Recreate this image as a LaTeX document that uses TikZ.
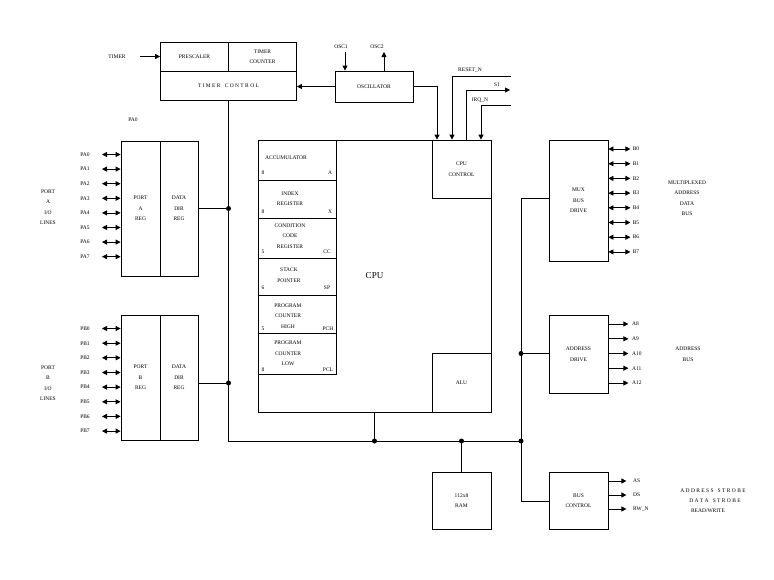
\documentclass[tikz,border=0pt]{standalone}
\usepackage{fontspec}
\setmainfont{Liberation Serif}
\usetikzlibrary{arrows.meta}
\tikzset{
  block/.style={draw=black, line width=0.8pt, inner sep=0pt, align=center, font=\fontsize{5.5}{10.5}\selectfont},
  txt/.style={inner sep=0pt, align=center, font=\fontsize{5.5}{10.5}\selectfont},
  wire/.style={line width=0.8pt, draw=black},
  arr/.style={wire, -{Triangle[length=5pt,width=5pt]}},
  bidir/.style={wire, {Triangle[length=5pt,width=5pt]}-{Triangle[length=5pt,width=5pt]}},
  joint/.style={fill=black},
}

\begin{document}
\begin{tikzpicture}[x=1pt, y=-1pt]
\useasboundingbox (0,0) rectangle (774,579);
% timer
\node[block, minimum width=68, minimum height=29] (presc) at (194.5,56.5) {PRESCALER};
\node[block, minimum width=68, minimum height=29] (tcount) at (262.5,56.5) {TIMER\\COUNTER};
\node[block, minimum width=136, minimum height=29] (tctrl) at (228.5,85.5) {T I M E R \ \ C O N T R O L};
\node[txt] (timer) at (117,56.5) {TIMER};
\draw[arr] (timer) ++(23,0) -- (presc.west);
% oscillator
\node[block, minimum width=78, minimum height=31] (osc) at (374,86.5) {OSCILLATOR};
\node[txt] (osc1) at (341,47) {OSC1};
\node[txt] (osc2) at (377,47) {OSC2};
\coordinate (osc1in) at (345,52);
\coordinate (osc2out) at (384,52);
\draw[arr] (osc1in) -- (osc1in |- osc.north);
\draw[arr] (osc2out |- osc.north) -- (osc2out);
\draw[arr] (osc.west) -- (osc.west -| tctrl.east);
% cpu
\node[block, minimum width=233, minimum height=272, font=\fontsize{9}{11}\selectfont] (cpu) at (374.5,276) {CPU};
\node[block, minimum width=59, minimum height=58] (cpuctl) at (461.5,169) {CPU\\CONTROL};
\node[block, minimum width=59, minimum height=59] (alu) at (461.5,382.5) {ALU};
\node[block, minimum width=78, minimum height=40] (acc) at (297,160) {};
\node[block, minimum width=78, minimum height=38] (idx) at (297,199) {};
\node[block, minimum width=78, minimum height=40] (ccr) at (297,238) {};
\node[block, minimum width=78, minimum height=37] (sp) at (297,276.5) {};
\node[block, minimum width=78, minimum height=38] (pch) at (297,314) {};
\node[block, minimum width=78, minimum height=41] (pcl) at (297,353.5) {};
\node[txt] (acctxt) at (286,158) {ACCUMULATOR};
\node[txt] (idxtxt) at (290,198.5) {INDEX\\REGISTER};
\node[txt] (ccrtxt) at (290,236) {CONDITION\\CODE\\REGISTER};
\node[txt] (sptxt) at (289,275) {STACK\\POINTER};
\node[txt] (pchtxt) at (288,316) {PROGRAM\\COUNTER\\HIGH};
\node[txt] (pcltxt) at (288,353.5) {PROGRAM\\COUNTER\\LOW};
\node[txt] (accn) at (263,173) {8};
\node[txt] (accr) at (330,173) {A};
\node[txt] (idxn) at (263,212) {8};
\node[txt] (idxr) at (330,212) {X};
\node[txt] (ccrn) at (263,252) {5};
\node[txt] (ccrr) at (327,252) {CC};
\node[txt] (spn) at (263,288) {6};
\node[txt] (spr) at (327,288) {SP};
\node[txt] (pchn) at (263,329) {5};
\node[txt] (pchr) at (328,329) {PCH};
\node[txt] (pcln) at (263,370) {8};
\node[txt] (pclr) at (328,370) {PCL};
% control lines
\coordinate (clkin) at (437,86.5);
\draw[arr] (osc.east) -- (clkin) -- (clkin |- cpu.north);
\coordinate (rstin) at (511,76);
\coordinate (rstbend) at (452,76);
\draw[arr] (rstin) -- (rstbend) -- (rstbend |- cpu.north);
\node[txt] (rstlbl) at (470,70) {RESET\_N};
\coordinate (s1bend) at (466,90);
\coordinate (s1out) at (510,90);
\draw[arr] (s1bend |- cpu.north) -- (s1bend) -- (s1out);
\node[txt] (s1lbl) at (497,85) {S1};
\coordinate (irqin) at (511,105);
\coordinate (irqbend) at (481,105);
\draw[arr] (irqin) -- (irqbend) -- (irqbend |- cpu.north);
\node[txt] (irqlbl) at (480,100) {IRQ\_N};
% port a
\node[block, minimum width=39, minimum height=135] (portareg) at (140.5,208.5) {PORT\\A\\REG};
\node[block, minimum width=38, minimum height=135] (ddra) at (179,208.5) {DATA\\DIR\\REG};
\node[txt] (portalbl) at (48,207) {PORT\\A\\I/O\\LINES};
\node[txt] (pahead) at (133,120) {PA0};
\node[txt] (pa0) at (85,154.5) {PA0};
\node[txt] (pa1) at (85,169.1) {PA1};
\node[txt] (pa2) at (85,183.7) {PA2};
\node[txt] (pa3) at (85,198.3) {PA3};
\node[txt] (pa4) at (85,212.9) {PA4};
\node[txt] (pa5) at (85,227.5) {PA5};
\node[txt] (pa6) at (85,242.1) {PA6};
\node[txt] (pa7) at (85,256.7) {PA7};
\draw[bidir] (pa0) ++(17,0) -- (pa0 -| portareg.west);
\draw[bidir] (pa1) ++(17,0) -- (pa1 -| portareg.west);
\draw[bidir] (pa2) ++(17,0) -- (pa2 -| portareg.west);
\draw[bidir] (pa3) ++(17,0) -- (pa3 -| portareg.west);
\draw[bidir] (pa4) ++(17,0) -- (pa4 -| portareg.west);
\draw[bidir] (pa5) ++(17,0) -- (pa5 -| portareg.west);
\draw[bidir] (pa6) ++(17,0) -- (pa6 -| portareg.west);
\draw[bidir] (pa7) ++(17,0) -- (pa7 -| portareg.west);
% port b
\node[block, minimum width=39, minimum height=125] (portbreg) at (140.5,377.5) {PORT\\B\\REG};
\node[block, minimum width=38, minimum height=125] (ddrb) at (179,377.5) {DATA\\DIR\\REG};
\node[txt] (portblbl) at (48,383) {PORT\\B\\I/O\\LINES};
\node[txt] (pb0) at (85,328.5) {PB0};
\node[txt] (pb1) at (85,343.2) {PB1};
\node[txt] (pb2) at (85,357.8) {PB2};
\node[txt] (pb3) at (85,372.5) {PB3};
\node[txt] (pb4) at (85,387.1) {PB4};
\node[txt] (pb5) at (85,401.8) {PB5};
\node[txt] (pb6) at (85,416.4) {PB6};
\node[txt] (pb7) at (85,431.1) {PB7};
\draw[bidir] (pb0) ++(17,0) -- (pb0 -| portbreg.west);
\draw[bidir] (pb1) ++(17,0) -- (pb1 -| portbreg.west);
\draw[bidir] (pb2) ++(17,0) -- (pb2 -| portbreg.west);
\draw[bidir] (pb3) ++(17,0) -- (pb3 -| portbreg.west);
\draw[bidir] (pb4) ++(17,0) -- (pb4 -| portbreg.west);
\draw[bidir] (pb5) ++(17,0) -- (pb5 -| portbreg.west);
\draw[bidir] (pb6) ++(17,0) -- (pb6 -| portbreg.west);
\draw[bidir] (pb7) ++(17,0) -- (pb7 -| portbreg.west);
% ram and bus blocks
\node[block, minimum width=59, minimum height=57] (ram) at (461.5,500.5) {112x8\\RAM};
\node[block, minimum width=59, minimum height=121] (mux) at (578.5,200.5) {MUX\\BUS\\DRIVE};
\node[block, minimum width=59, minimum height=78] (addr) at (578.5,354) {ADDRESS\\DRIVE};
\node[block, minimum width=59, minimum height=57] (busctl) at (578.5,500.5) {BUS\\CONTROL};
% internal bus
\coordinate (bl) at (228.5,441);
\coordinate (br) at (521,441);
\coordinate (paj) at (228.5,208.5);
\coordinate (pbj) at (228.5,383);
\coordinate (cpuj) at (374.5,441);
\coordinate (ramj) at (461.5,441);
\coordinate (rtop) at (521,198);
\coordinate (rbot) at (521,501);
\coordinate (adj) at (521,353.5);
\draw[wire] (tctrl.south) -- (bl) -- (br);
\draw[wire] (ddra.east) -- (paj);
\draw[wire] (pbj -| ddrb.east) -- (pbj);
\draw[wire] (cpu.south) -- (cpuj);
\draw[wire] (ram.north) -- (ramj);
\draw[wire] (rtop -| mux.west) -- (rtop) -- (rbot) -- (rbot -| busctl.west);
\draw[wire] (adj) -- (adj -| addr.west);
\fill[joint] (paj) circle (2.5);
\fill[joint] (pbj) circle (2.5);
\fill[joint] (cpuj) circle (2.5);
\fill[joint] (ramj) circle (2.5);
\fill[joint] (br) circle (2.5);
\fill[joint] (adj) circle (2.5);
% mux outputs
\node[txt] (b0) at (636,149) {B0};
\node[txt] (b1) at (636,163.7) {B1};
\node[txt] (b2) at (636,178.4) {B2};
\node[txt] (b3) at (636,193.1) {B3};
\node[txt] (b4) at (636,207.8) {B4};
\node[txt] (b5) at (636,222.5) {B5};
\node[txt] (b6) at (636,237.2) {B6};
\node[txt] (b7) at (636,251.9) {B7};
\draw[bidir] (b0 -| mux.east) -- ++(22,0);
\draw[bidir] (b1 -| mux.east) -- ++(22,0);
\draw[bidir] (b2 -| mux.east) -- ++(22,0);
\draw[bidir] (b3 -| mux.east) -- ++(22,0);
\draw[bidir] (b4 -| mux.east) -- ++(22,0);
\draw[bidir] (b5 -| mux.east) -- ++(22,0);
\draw[bidir] (b6 -| mux.east) -- ++(22,0);
\draw[bidir] (b7 -| mux.east) -- ++(22,0);
\node[txt] (muxbus) at (687,198) {MULTIPLEXED\\ADDRESS\\DATA\\BUS};
% address outputs
\node[txt, anchor=west] (a8) at (632,324) {A8};
\node[txt, anchor=west] (a9) at (632,338.8) {A9};
\node[txt, anchor=west] (a10) at (632,353.5) {A10};
\node[txt, anchor=west] (a11) at (632,368.2) {A11};
\node[txt, anchor=west] (a12) at (632,383) {A12};
\draw[arr] (a8 -| addr.east) -- ++(20,0);
\draw[arr] (a9 -| addr.east) -- ++(20,0);
\draw[arr] (a10 -| addr.east) -- ++(20,0);
\draw[arr] (a11 -| addr.east) -- ++(20,0);
\draw[arr] (a12 -| addr.east) -- ++(20,0);
\node[txt] (addrbus) at (688,354) {ADDRESS\\BUS};
% bus control outputs
\node[txt, anchor=west] (as) at (633,481) {AS};
\node[txt, anchor=west] (ds) at (633,495) {DS};
\node[txt, anchor=west] (rw) at (633,509) {RW\_N};
\draw[arr] (as -| busctl.east) -- ++(18,0);
\draw[arr] (ds -| busctl.east) -- ++(18,0);
\draw[arr] (rw -| busctl.east) -- ++(18,0);
\node[txt] (asdesc) at (713,491) {A D D R E S S \ \ S T R O B E};
\node[txt] (dsdesc) at (715,501) {D A T A \ \ S T R O B E};
\node[txt] (rwdesc) at (708,511) {READ/WRITE};
\end{tikzpicture}
\end{document}
